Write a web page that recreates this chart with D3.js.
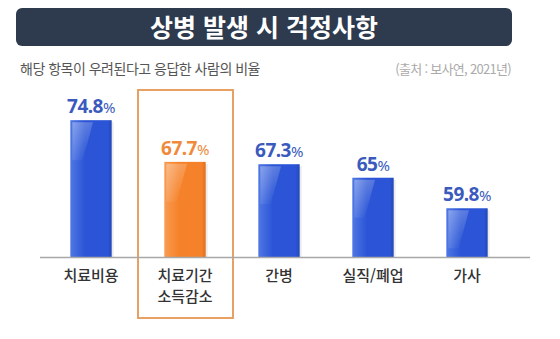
<!DOCTYPE html>
<html lang="ko">
<head>
<meta charset="utf-8">
<script src="https://cdn.jsdelivr.net/npm/d3@7/dist/d3.min.js"></script>
<style>
  html, body { margin: 0; padding: 0; background: #fff; }
  svg { display: block; }
</style>
</head>
<body>
<svg id="chart" width="560" height="339"></svg>
<script>
// Survey: share of respondents worried about each item when falling ill
const titleText = "상병 발생 시 걱정사항";
const subtitleText = "해당 항목이 우려된다고 응답한 사람의 비율";
const sourceText = "(출처 : 보사연, 2021년)";
const categories = [["치료비용"], ["치료기간", "소득감소"], ["간병"], ["실직/폐업"], ["가사"]];
const values = [74.8, 67.7, 67.3, 65, 59.8];
const valueLabels = ["74.8", "67.7", "67.3", "65", "59.8"];
const highlightIndex = 1;

const svg = d3.select("#chart");
const KR = "'Noto Sans CJK KR', 'Noto Sans', sans-serif";
const NUM = "'Noto Sans', 'Open Sans', sans-serif";

const blue = "#2b55d6", blueText = "#3a5abd";
const orange = "#f5822a", orangeText = "#ef8a3c";

// gradients for glossy bars
const defs = svg.append("defs");
function barGrad(id, light, base, dark) {
  const g = defs.append("linearGradient").attr("id", id)
    .attr("x1", "0").attr("y1", "0").attr("x2", "1").attr("y2", "0");
  g.append("stop").attr("offset", "0").attr("stop-color", light);
  g.append("stop").attr("offset", "0.35").attr("stop-color", base);
  g.append("stop").attr("offset", "0.9").attr("stop-color", base);
  g.append("stop").attr("offset", "1").attr("stop-color", dark);
}
barGrad("gBlue", "#4f77e4", blue, "#2448b8");
barGrad("gOrange", "#f89b52", orange, "#e0701c");
const gloss = defs.append("linearGradient").attr("id", "gloss")
  .attr("x1", "0").attr("y1", "0").attr("x2", "0.6").attr("y2", "1");
gloss.append("stop").attr("offset", "0").attr("stop-color", "#fff").attr("stop-opacity", 0.35);
gloss.append("stop").attr("offset", "1").attr("stop-color", "#fff").attr("stop-opacity", 0);

// title banner
svg.append("rect").attr("x", 16).attr("y", 8).attr("width", 496).attr("height", 38)
  .attr("rx", 6).attr("fill", "#2e3a4e");
svg.append("text").attr("x", 264).attr("y", 36.5).attr("text-anchor", "middle")
  .attr("font-family", KR).attr("font-weight", 700).attr("font-size", 25)
  .attr("fill", "#fff").text(titleText);

svg.append("text").attr("x", 20).attr("y", 74)
  .attr("font-family", KR).attr("font-size", 14).attr("fill", "#555")
  .attr("letter-spacing", -0.5).text(subtitleText);
svg.append("text").attr("x", 511).attr("y", 74).attr("text-anchor", "end")
  .attr("font-family", KR).attr("font-size", 13).attr("fill", "#aaa")
  .attr("letter-spacing", -0.7).text(sourceText);

// scales
const baseY = 257;
const x = d3.scaleBand().domain(d3.range(values.length)).range([44, 514]).paddingInner(0.56).paddingOuter(0.28);
const y = d3.scaleLinear().domain([51.5, 75]).range([baseY, 119]);

// highlight frame around the second category
const hb = x(highlightIndex) + x.bandwidth() / 2;
svg.append("rect").attr("x", hb - 47).attr("y", 90).attr("width", 95).attr("height", 228)
  .attr("fill", "none").attr("stroke", "#e9a064").attr("stroke-width", 2);

// bars
const bars = svg.append("g");
values.forEach((v, i) => {
  const bx = x(i), bw = x.bandwidth(), by = y(v), bh = baseY - y(v);
  bars.append("rect").attr("x", bx + 2).attr("y", by + 2).attr("width", bw).attr("height", bh - 2)
    .attr("fill", "#000").attr("opacity", 0.08);
  bars.append("rect").attr("x", bx).attr("y", by).attr("width", bw).attr("height", bh)
    .attr("fill", i === highlightIndex ? "url(#gOrange)" : "url(#gBlue)");
  bars.append("path")
    .attr("d", `M${bx + 2},${by + 2} L${bx + bw * 0.55},${by + 2} L${bx + bw * 0.3},${by + Math.min(bh, 40)} L${bx + 2},${by + Math.min(bh, 40)} Z`)
    .attr("fill", "url(#gloss)");

  const lbl = svg.append("text").attr("x", bx + bw / 2).attr("y", by - 7)
    .attr("text-anchor", "middle").attr("font-family", NUM).attr("font-weight", 700)
    .attr("fill", i === highlightIndex ? orangeText : blueText)
    .attr("letter-spacing", -0.5);
  lbl.append("tspan").attr("font-size", 19).text(valueLabels[i]);
  lbl.append("tspan").attr("font-size", 15).attr("font-weight", 400).text("%");
});

// baseline
svg.append("line").attr("x1", 40).attr("x2", 530).attr("y1", baseY + 0.5).attr("y2", baseY + 0.5)
  .attr("stroke", "#a8a8a8").attr("stroke-width", 1.5);

// category labels
categories.forEach((lines, i) => {
  const t = svg.append("text").attr("text-anchor", "middle")
    .attr("font-family", KR).attr("font-size", 15).attr("font-weight", 500).attr("fill", "#333");
  lines.forEach((s, j) => {
    t.append("tspan").attr("x", x(i) + x.bandwidth() / 2).attr("y", 281 + j * 21).text(s);
  });
});
</script>
</body>
</html>
